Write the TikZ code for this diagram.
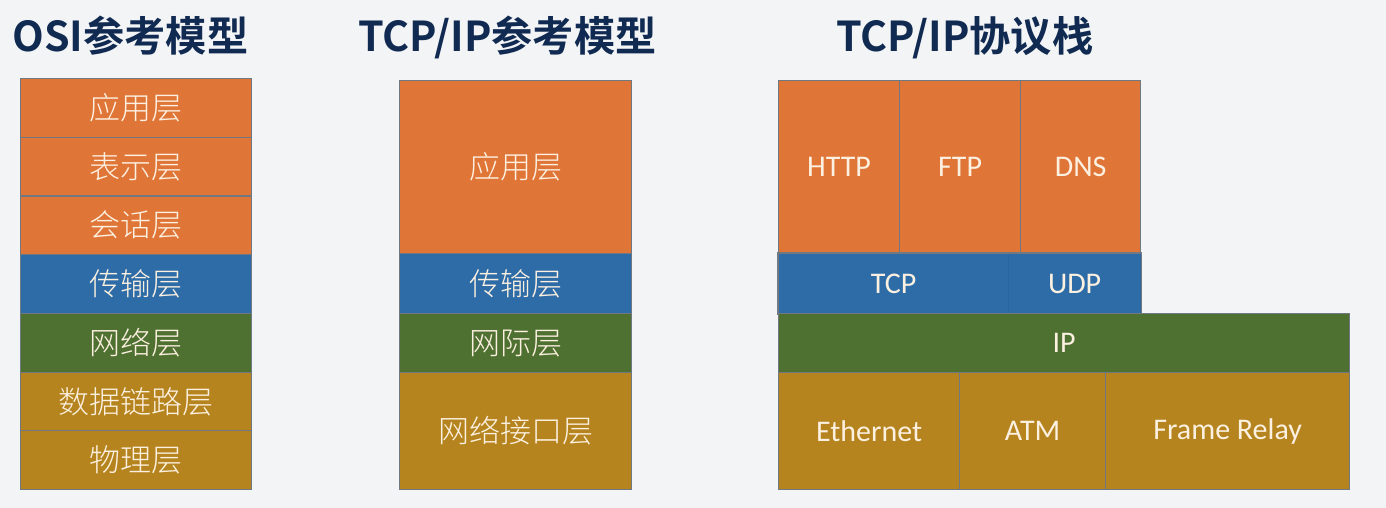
\documentclass[tikz,border=0pt]{standalone}
\usepackage{fontspec}
\setmainfont{Carlito}
\newfontfamily\cjk{Noto Sans CJK SC Light}
\newfontfamily\cjktitle{Noto Sans CJK SC Bold}

\definecolor{app}{RGB}{224,117,56}
\definecolor{trans}{RGB}{46,108,168}
\definecolor{net}{RGB}{78,112,48}
\definecolor{link}{RGB}{181,132,30}
\definecolor{titleblue}{RGB}{16,42,82}
\definecolor{txt}{RGB}{252,240,224}
\definecolor{bg}{RGB}{243,244,246}
\definecolor{edge}{RGB}{112,120,130}

\tikzset{
  layer/.style 2 args={draw=edge, line width=0.6pt, inner sep=0, anchor=north west, text=txt,
    minimum width=#1*0.5pt, minimum height=#2*0.5pt},
  heading/.style={anchor=base west, inner sep=0, text=titleblue, font=\cjktitle\fontsize{20.6}{25}\selectfont},
  zh/.style={font=\cjk\fontsize{15.5}{18}\selectfont},
  en/.style={font=\fontsize{15}{18}\selectfont},
}

\begin{document}
\begin{tikzpicture}[x=0.5pt, y=-0.5pt]
\useasboundingbox (0,0) rectangle (1386,508);
\fill[bg] (0,0) rectangle (1386,508); % background

% titles
\node[heading] (osititle) at (12,52) {OSI参考模型};
\node[heading] (modeltitle) at (358,52) {TCP/IP参考模型};
\node[heading] (stacktitle) at (836,52) {TCP/IP协议栈};

% OSI layers
\foreach \txt/\col [count=\i from 0] in {应用层/app,表示层/app,会话层/app,传输层/trans,网络层/net,数据链路层/link,物理层/link}
  \node[layer={231}{58.7}, fill=\col, zh] (osi\i) at (20,{78+58.7*\i}) {\txt};

% TCP/IP model
\node[layer={232}{173}, fill=app, zh] (mapp) at (399,80) {应用层};
\node[layer={232}{60}, fill=trans, zh] (mtrans) at (399,253) {传输层};
\node[layer={232}{59}, fill=net, zh] (mnet) at (399,313) {网际层};
\node[layer={232}{117}, fill=link, zh] (mlink) at (399,372) {网络接口层};

% TCP/IP stack
\node[layer={121}{173}, fill=app, en] (http) at (778,80) {HTTP};
\node[layer={121}{173}, fill=app, en] (ftp) at (899,80) {FTP};
\node[layer={120}{173}, fill=app, en] (dns) at (1020,80) {DNS};
\node[layer={230}{60}, fill=trans, draw=trans!94!black, en] (tcp) at (778,253) {TCP};
\node[layer={132}{60}, fill=trans, draw=trans!94!black, en] (udp) at (1008,253) {UDP};
\draw[edge, line width=0.6pt] (tcp.north west) rectangle (udp.south east); % transport frame
\node[layer={571}{59}, fill=net, en] (ip) at (778,313) {IP};
\node[layer={181}{117}, fill=link, en] (eth) at (778,372) {Ethernet};
\node[layer={146}{117}, fill=link, en] (atm) at (959,372) {ATM};
\node[layer={244}{117}, fill=link, en] (frame) at (1105,372) {Frame Relay};
\end{tikzpicture}
\end{document}
